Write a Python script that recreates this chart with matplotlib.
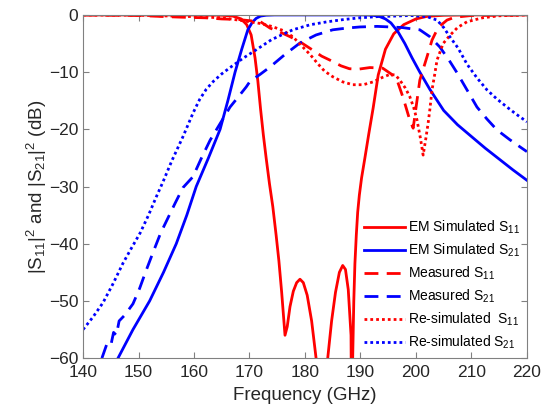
import matplotlib
matplotlib.use("Agg")
import matplotlib.pyplot as plt

plt.rcParams['font.family'] = ['Liberation Sans', 'DejaVu Sans']
plt.rcParams['mathtext.default'] = 'regular'

# EM simulated S11 (solid red)
f_em11 = [140, 150, 160, 165, 167, 168.5, 169.5, 170.3, 171.0, 171.5, 172.0, 172.5,
          173.0, 173.6, 174.2, 174.8, 175.3, 175.8, 176.2, 176.4, 176.8, 177.3,
          177.9, 178.5, 179.1, 179.7, 180.4, 181.2, 182.0, 182.6, 183.2, 183.6,
          184.1, 184.8, 185.5, 186.2, 186.8, 187.3, 187.8, 188.3, 188.45, 188.6,
          188.8, 189.0, 189.25, 189.5, 189.8, 190.2, 190.8, 191.5, 192.3, 193.2,
          194.5, 196.0, 197.8, 200, 202, 205, 210, 220]
s_em11 = [0, 0, 0, -0.05, -0.2, -0.7, -1.7, -3.5, -7.5, -11.5, -16.5, -21,
          -25, -29.5, -33.5, -38.5, -43, -48.5, -53.5, -56, -54.5, -51,
          -48.3, -46.8, -46.2, -46.8, -49, -53.5, -60, -66, -75, -66,
          -60, -53.5, -48.5, -45, -43.8, -44.5, -48, -56, -80, -60,
          -50, -43.5, -38.5, -34.5, -31.5, -28.5, -25, -20.8, -16.2, -10.5,
          -6.0, -3.3, -1.7, -0.7, -0.25, -0.06, 0, 0]

# EM simulated S21 (solid blue)
f_em21 = [146.3, 149, 152, 154.5, 156.8, 158.7, 160.4, 162.6, 164.7, 166.1, 167.4,
          168.6, 169.7, 170.5, 171.2, 172, 173, 174.5, 177, 185, 191, 192.5,
          193.5, 194.5, 195.5, 196.8, 198, 199.3, 200.7, 202.5, 205, 207.5,
          210.3, 212.5, 215, 217.5, 220]
s_em21 = [-60, -55, -50, -45, -40, -35, -30, -25, -20, -15, -10,
          -6, -2.6, -1.3, -0.6, -0.2, -0.05, 0, 0, 0, 0, -0.1,
          -0.3, -0.7, -1.4, -3.0, -5.0, -7.5, -10.0, -13.0, -16.7, -19.2,
          -21.5, -23.3, -25.2, -27.1, -28.9]

# Measured S11 (dashed red)
f_m11 = [140, 145, 150, 155, 158, 162, 165, 168, 170, 172, 173.7, 175.5, 177.3,
         179.1, 181, 183, 184.5, 186.5, 188, 189.5, 191.7, 194, 195.5, 196.6,
         197.7, 198.9, 199.5, 200.2, 200.7, 201.3, 202, 202.9, 204, 205.6, 207,
         210, 220]
s_m11 = [0, -0.05, -0.1, -0.3, -0.4, -0.5, -0.7, -0.8, -1.0, -1.2, -2.3, -3.0, -3.8,
         -4.7, -5.9, -7.2, -7.9, -8.9, -9.4, -9.5, -9.2, -9.3, -10.3, -11.4,
         -14.5, -18.4, -19.8, -14.9, -11.4, -9.5, -7.3, -4.4, -2.2, -0.9, -0.4,
         -0.1, 0]

# Measured S21 (dashed blue)
f_m21 = [143.4, 144.3, 145.0, 145.5, 146.0, 146.5, 147.5, 149, 150.2, 151.4, 152.7,
         154, 155.3, 156.6, 158, 159.8, 161.3, 162.9, 164.7, 166.5, 168, 169.4,
         170.1, 171.9, 173.7, 176.4, 179.1, 182, 185, 187.5, 189.9, 193, 195.3,
         197.5, 199, 200.7, 202.5, 204.3, 205.9, 207.4, 209.2, 211, 212.8, 214.6,
         216.9, 219.1, 220]
s_m21 = [-60, -57.5, -57.8, -55.5, -56.0, -53.5, -52.5, -50.5, -47.8, -44.6, -41.3,
         -38.1, -35.5, -32.9, -30.2, -28.3, -25.1, -21.9, -19.0, -16.1, -14.3, -12.6,
         -11.6, -10.4, -9.1, -6.9, -4.9, -3.5, -2.6, -2.3, -2.1, -2.0, -2.1,
         -2.2, -2.4, -2.6, -3.8, -5.6, -7.8, -10.1, -13.1, -16.1, -18.2, -20.1,
         -21.8, -23.3, -23.9]

# Re-simulated S11 (dotted red)
f_r11 = [140, 150, 160, 165, 168, 170, 172, 174, 176, 177.8, 179.6, 181, 182.2,
         183.5, 185, 186.8, 188.6, 190.5, 192.3, 194, 195.3, 196.3, 197.1, 198.1,
         198.9, 199.6, 200.2, 200.8, 201.3, 201.8, 202.2, 202.5, 202.9, 203.4,
         203.8, 204.9, 206.1, 207.5, 209.2, 212, 215, 220]
s_r11 = [0, -0.05, -0.3, -0.5, -0.9, -1.2, -1.5, -2.0, -2.7, -3.8, -5.6, -7.0, -8.4,
         -9.8, -10.8, -11.7, -12.2, -12.2, -11.7, -10.9, -10.4, -10.5, -11.4, -12.8,
         -14.3, -16.2, -18.4, -21.5, -24.5, -21.5, -18.9, -16.6, -13.1, -10.3,
         -7.9, -5.0, -3.6, -2.2, -1.2, -0.5, -0.15, 0]

# Re-simulated S21 (dotted blue)
f_r21 = [140, 141.8, 143.6, 145.4, 147.2, 148.7, 150.3, 151.8, 153.2, 154.4, 156,
         158, 159.8, 161, 162.2, 163.5, 165, 166.5, 168.8, 171.2, 174, 177.8, 181,
         184, 187, 189.9, 193, 196, 199, 202, 203.8, 205, 206.1, 207.6, 209.2,
         211, 212.8, 214.6, 216.4, 218, 219.6, 220]
s_r21 = [-55, -52.8, -50.3, -47, -43.4, -40.8, -38.1, -35.0, -31.8, -29.2, -25.5,
         -21.3, -17.2, -14.8, -13.0, -11.6, -10.3, -9.2, -7.6, -6.1, -4.3, -2.6, -1.7,
         -1.2, -0.8, -0.5, -0.3, -0.2, -0.1, -0.3, -0.9, -2.2, -3.8, -5.8, -8.6,
         -11.0, -13.1, -14.7, -16.1, -17.3, -18.4, -18.7]

xticks = [140, 150, 160, 170, 180, 190, 200, 210, 220]
yticks = [0, -10, -20, -30, -40, -50, -60]

fig = plt.figure(figsize=(5.5, 4.15), dpi=100)
ax = fig.add_axes([0.151, 0.137, 0.807, 0.827])

lw = 2
dash = (5, 3)
dot = (0, (1, 1.1))
ax.plot(f_em11, s_em11, color='#ff0000', lw=lw, label='EM Simulated S$_{11}$')
ax.plot(f_em21, s_em21, color='#0000ff', lw=lw, label='EM Simulated S$_{21}$')
ax.plot(f_m11, s_m11, color='#ff0000', lw=lw, dashes=dash, label='Measured S$_{11}$')
ax.plot(f_m21, s_m21, color='#0000ff', lw=lw, dashes=dash, label='Measured S$_{21}$')
ax.plot(f_r11, s_r11, color='#ff0000', lw=lw, linestyle=dot, label='Re-simulated  S$_{11}$')
ax.plot(f_r21, s_r21, color='#0000ff', lw=lw, linestyle=dot, label='Re-simulated S$_{21}$')

ax.set_xlim(140, 220)
ax.set_ylim(-60, 0)
ax.set_xticks(xticks)
ax.set_yticks(yticks)
ax.tick_params(direction='in', top=True, right=True, labelsize=12.5,
               colors='#262626', length=4, width=0.8)
ax.tick_params(axis='x', pad=5)
for sp in ax.spines.values():
    sp.set_color('#808080')
    sp.set_linewidth(0.8)
ax.tick_params(axis='both', color='#808080')

ax.set_xlabel('Frequency (GHz)', fontsize=13.5, color='#262626', labelpad=5)
ax.set_ylabel('|S$_{11}$|$^2$ and |S$_{21}$|$^2$ (dB)', fontsize=13.5,
              color='#262626', labelpad=0)

ax.legend(loc='lower right', frameon=False, fontsize=10, handlelength=2.95,
          handletextpad=0.2, labelspacing=0.4, borderaxespad=0.1,
          bbox_to_anchor=(1.0, 0.0))

fig.savefig('out.png', dpi=100)
